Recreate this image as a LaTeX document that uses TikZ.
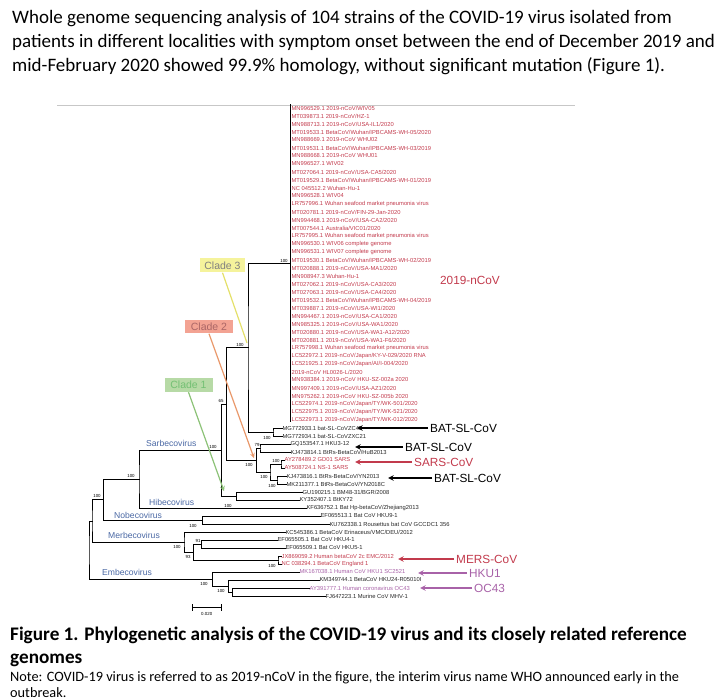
\documentclass[tikz,border=0pt]{standalone}
\usepackage{fontspec}
\setmainfont{Carlito}
\newfontfamily\treefont{Liberation Sans}
\definecolor{ncovred}{HTML}{C23A4C}
\definecolor{hkupurple}{HTML}{A862A8}
\definecolor{genusblue}{HTML}{4A68A4}
\definecolor{yellowfill}{HTML}{F5F39C}
\definecolor{yellowline}{HTML}{E4E06A}
\definecolor{salmonfill}{HTML}{F3A393}
\definecolor{orangeline}{HTML}{E9986A}
\definecolor{greenfill}{HTML}{B7DAA6}
\definecolor{greenline}{HTML}{8CC277}
\begin{document}
\begin{tikzpicture}[x=1pt, y=-1pt,
  branch/.style={line width=1pt, line cap=rect},
  leaf/.style={anchor=west, inner sep=0.4pt, text=black!85, font=\treefont\fontsize{5.8}{6}\selectfont},
  redleaf/.style={leaf, text=ncovred},
  hkuleaf/.style={leaf, text=hkupurple},
  boot/.style={inner sep=0pt, font=\treefont\fontsize{4.4}{5}\selectfont},
  genus/.style={anchor=west, inner sep=0pt, text=genusblue, font=\treefont\fontsize{8.6}{10}\selectfont},
  cladebox/.style={inner sep=0pt, minimum height=14pt, font=\treefont\fontsize{10.5}{12}\selectfont},
  tag/.style={anchor=west, inner sep=2pt, font=\treefont\fontsize{11.8}{13}\selectfont},
  pointer/.style={->, >=stealth, line width=1.5pt},
  bodytext/.style={anchor=base west, inner sep=0pt, font=\fontsize{19}{22}\selectfont}]
\useasboundingbox (0,0) rectangle (720,700);

% text above the figure
\node[bodytext] (intro1) at (12,24) {Whole genome sequencing analysis of 104 strains of the COVID-19 virus isolated from};
\node[bodytext] (intro2) at (12,48) {patients in different localities with symptom onset between the end of December 2019 and};
\node[bodytext] (intro3) at (12,72) {mid-February 2020 showed 99.9\% homology, without significant mutation (Figure 1).};

\coordinate (frameL) at (57,105);
\coordinate (frameR) at (575,105);
\draw[black!22, line width=0.6pt] (frameL) -- (frameR);

% 2019-nCoV leaves
\node[redleaf] (l1)  at (291,108) {MN996529.1 2019-nCoV/WIV05};
\node[redleaf] (l2)  at (291,116) {MT039873.1 2019-nCoV/HZ-1};
\node[redleaf] (l3)  at (291,124) {MN988713.1 2019-nCoV/USA-IL1/2020};
\node[redleaf] (l4)  at (291,132) {MT019533.1 BetaCoV/Wuhan/IPBCAMS-WH-05/2020};
\node[redleaf] (l5)  at (291,140) {MN988669.1 2019-nCoV WHU02};
\node[redleaf] (l6)  at (291,148) {MT019531.1 BetaCoV/Wuhan/IPBCAMS-WH-03/2019};
\node[redleaf] (l7)  at (291,156) {MN988668.1 2019-nCoV WHU01};
\node[redleaf] (l8)  at (291,164) {MN996527.1 WIV02};
\node[redleaf] (l9)  at (291,172) {MT027064.1 2019-nCoV/USA-CA5/2020};
\node[redleaf] (l10) at (291,180) {MT019529.1 BetaCoV/Wuhan/IPBCAMS-WH-01/2019};
\node[redleaf] (l11) at (291,188) {NC 045512.2 Wuhan-Hu-1};
\node[redleaf] (l12) at (291,196) {MN996528.1 WIV04};
\node[redleaf] (l13) at (291,204) {LR757996.1 Wuhan seafood market pneumonia virus};
\node[redleaf] (l14) at (291,212) {MT020781.1 2019-nCoV/FIN-29-Jan-2020};
\node[redleaf] (l15) at (291,220) {MN994468.1 2019-nCoV/USA-CA2/2020};
\node[redleaf] (l16) at (291,228) {MT007544.1 Australia/VIC01/2020};
\node[redleaf] (l17) at (291,236) {LR757995.1 Wuhan seafood market pneumonia virus};
\node[redleaf] (l18) at (291,244) {MN996530.1 WIV06 complete genome};
\node[redleaf] (l19) at (291,252) {MN996531.1 WIV07 complete genome};
\node[redleaf] (l20) at (291,260) {MT019530.1 BetaCoV/Wuhan/IPBCAMS-WH-02/2019};
\node[redleaf] (l21) at (291,268) {MT020888.1 2019-nCoV/USA-MA1/2020};
\node[redleaf] (l22) at (291,276) {MN908947.3 Wuhan-Hu-1};
\node[redleaf] (l23) at (291,284) {MT027062.1 2019-nCoV/USA-CA3/2020};
\node[redleaf] (l24) at (291,292) {MT027063.1 2019-nCoV/USA-CA4/2020};
\node[redleaf] (l25) at (291,300) {MT019532.1 BetaCoV/Wuhan/IPBCAMS-WH-04/2019};
\node[redleaf] (l26) at (291,308) {MT039887.1 2019-nCoV/USA-WI1/2020};
\node[redleaf] (l27) at (291,316) {MN994467.1 2019-nCoV/USA-CA1/2020};
\node[redleaf] (l28) at (291,324) {MN985325.1 2019-nCoV/USA-WA1/2020};
\node[redleaf] (l29) at (291,332) {MT020880.1 2019-nCoV/USA-WA1-A12/2020};
\node[redleaf] (l30) at (291,340) {MT020881.1 2019-nCoV/USA-WA1-F6/2020};
\node[redleaf] (l31) at (291,348) {LR757998.1 Wuhan seafood market pneumonia virus};
\node[redleaf] (l32) at (291,356) {LC522972.1 2019-nCoV/Japan/KY-V-029/2020 RNA};
\node[redleaf] (l33) at (291,364) {LC521925.1 2019-nCoV/Japan/AI/I-004/2020};
\node[redleaf] (l34) at (291,372) {2019-nCoV HL0026-L/2020};
\node[redleaf] (l35) at (291,380) {MN938384.1 2019-nCoV HKU-SZ-002a 2020};
\node[redleaf] (l36) at (291,388) {MN997409.1 2019-nCoV/USA-AZ1/2020};
\node[redleaf] (l37) at (291,396) {MN975262.1 2019-nCoV HKU-SZ-005b 2020};
\node[redleaf] (l38) at (291,404) {LC522974.1 2019-nCoV/Japan/TY/WK-501/2020};
\node[redleaf] (l39) at (291,412) {LC522975.1 2019-nCoV/Japan/TY/WK-521/2020};
\node[redleaf] (l40) at (291,420) {LC522973.1 2019-nCoV/Japan/TY/WK-012/2020};

% the other reference genomes
\node[leaf]    (l41) at (282,428) {MG772933.1 bat-SL-CoVZC45};
\node[leaf]    (l42) at (282,436) {MG772934.1 bat-SL-CoVZXC21};
\node[leaf]    (l43) at (290,444) {GQ153547.1 HKU3-12};
\node[leaf]    (l44) at (290,452) {KJ473814.1 BtRs-BetaCoV/HuB2013};
\node[redleaf] (l45) at (284,460) {AY278489.2 GD01 SARS};
\node[redleaf] (l46) at (284,468) {AY508724.1 NS-1 SARS};
\node[leaf]    (l47) at (286,476) {KJ473816.1 BtRs-BetaCoV/YN2013};
\node[leaf]    (l48) at (286,484) {MK211377.1 BtRs-BetaCoV/YN2018C};
\node[leaf]    (l49) at (302,492) {GU190215.1 BM48-31/BGR/2008};
\node[leaf]    (l50) at (299,500) {KY352407.1 BtKY72};
\node[leaf]    (l51) at (306,508) {KF636752.1 Bat Hp-betaCoV/Zhejiang2013};
\node[leaf]    (l52) at (320,516) {EF065513.1 Bat CoV HKU9-1};
\node[leaf]    (l53) at (329,524) {KU762338.1 Rousettus bat CoV GCCDC1 356};
\node[leaf]    (l54) at (285,532) {KC545386.1 BetaCoV Erinaceus/VMC/DEU/2012};
\node[leaf]    (l55) at (277,540) {EF065505.1 Bat CoV HKU4-1};
\node[leaf]    (l56) at (285,548) {EF065509.1 Bat CoV HKU5-1};
\node[redleaf] (l57) at (281,556) {JX869059.2 Human betaCoV 2c EMC/2012};
\node[redleaf] (l58) at (281,564) {NC 038294.1 BetaCoV England 1};
\node[hkuleaf] (l59) at (299,572) {MK167038.1 Human CoV HKU1 SC2521};
\node[leaf]    (l60) at (319,580) {KM349744.1 BetaCoV HKU24-R05010I};
\node[hkuleaf] (l61) at (309,588) {AY391777.1 Human coronavirus OC43};
\node[leaf]    (l62) at (325,596) {FJ647223.1 Murine CoV MHV-1};

% inner nodes of the tree
\coordinate (ncovtop) at (290,105);
\coordinate (ncovbot) at (290,421);
\coordinate (ncov) at (290,264);
\coordinate (mg)   at (273,432);
\coordinate (cl3)  at (248,348);
\coordinate (gq)   at (260,448);
\coordinate (sars) at (281,464);
\coordinate (yn)   at (277,480);
\coordinate (sy)   at (270,472);
\coordinate (n1)   at (256.7,460);
\coordinate (na)   at (226.7,404);
\coordinate (gk)   at (236.7,496);
\coordinate (nb)   at (221.7,450);
\coordinate (nc)   at (139,479);
\coordinate (nob)  at (202.7,520);
\coordinate (nd)   at (103.3,499.5);
\coordinate (m3)   at (201.7,544);
\coordinate (m4)   at (278,560);
\coordinate (m2)   at (193.3,552);
\coordinate (m1)   at (184,542);
\coordinate (ne)   at (92,521);
\coordinate (em3)  at (232.7,592);
\coordinate (em2)  at (228.3,586);
\coordinate (em1)  at (212.7,579);
\coordinate (root) at (89,550);

\draw[branch] (ncovtop) -- (ncovbot);
\draw[branch] (l41.west) -| (mg) |- (l42.west);
\draw[branch] (ncov) -| (cl3) |- (mg);
\draw[branch] (l43.west) -| (gq) |- (l44.west);
\draw[branch] (l45.west) -| (sars) |- (l46.west);
\draw[branch] (l47.west) -| (yn) |- (l48.west);
\draw[branch] (sars) -| (sy) |- (yn);
\draw[branch] (gq) -| (n1) |- (sy);
\draw[branch] (cl3) -| (na) |- (n1);
\draw[branch] (l49.west) -| (gk) |- (l50.west);
\draw[branch] (na) -| (nb) |- (gk);
\draw[branch] (nb) -| (nc) |- (l51.west);
\draw[branch] (l52.west) -| (nob) |- (l53.west);
\draw[branch] (nc) -| (nd) |- (nob);
\draw[branch] (l55.west) -| (m3) |- (l56.west);
\draw[branch] (l57.west) -| (m4) |- (l58.west);
\draw[branch] (m3) -| (m2) |- (m4);
\draw[branch] (l54.west) -| (m1) |- (m2);
\draw[branch] (nd) -| (ne) |- (m1);
\draw[branch] (l61.west) -| (em3) |- (l62.west);
\draw[branch] (l60.west) -| (em2) |- (em3);
\draw[branch] (l59.west) -| (em1) |- (em2);
\draw[branch] (ne) -| (root) |- (em1);

% bootstrap values
\node[boot] (b1)  at (284,261) {100};
\node[boot] (b2)  at (240,345) {100};
\node[boot] (b3)  at (267,438) {100};
\node[boot] (b4)  at (257,445) {79};
\node[boot] (b5)  at (249,465) {100};
\node[boot] (b6)  at (276,461) {100};
\node[boot] (b7)  at (264,477) {100};
\node[boot] (b8)  at (272,486) {100};
\node[boot] (b9)  at (221,401) {65};
\node[boot] (b10) at (213,447) {100};
\node[boot] (b11) at (228,506) {100};
\node[boot] (b12) at (131,476) {100};
\node[boot] (b13) at (193,526) {100};
\node[boot] (b14) at (97,496) {100};
\node[boot] (b15) at (198,541) {91};
\node[boot] (b16) at (188,557) {93};
\node[boot] (b17) at (177,547) {100};
\node[boot] (b18) at (272,566) {100};
\node[boot] (b19) at (204,584) {100};
\node[boot] (b20) at (221,591) {100};

% genus names
\node[genus] (sarbeco) at (146,443) {Sarbecovirus};
\node[genus] (hibeco)  at (149,502) {Hibecovirus};
\node[genus] (nobeco)  at (114,515) {Nobecovirus};
\node[genus] (merbeco) at (108,535) {Merbecovirus};
\node[genus] (embeco)  at (102,572) {Embecovirus};

\node[text=ncovred, font=\treefont\fontsize{11.8}{13}\selectfont] (ncovname) at (470,280) {2019-nCoV};

% clade call-outs
\node[cladebox, fill=yellowfill, text=black!50, minimum width=45pt] (clade3) at (222.5,265.5) {Clade 3};
\node[cladebox, fill=salmonfill, text=black!55!red!60, minimum width=48pt, minimum height=13pt] (clade2) at (209,327) {Clade 2};
\node[cladebox, fill=greenfill, text=black!45!green!55, minimum width=48pt] (clade1) at (188.5,385) {Clade 1};
\coordinate (clade3tip) at (247,343);
\coordinate (clade2tip) at (254,458);
\coordinate (clade1tip) at (224,491);
\draw[yellowline, line width=1.2pt] (clade3.south) -- (clade3tip);
\draw[orangeline, line width=1.2pt, ->, >=stealth] (clade2.south) -- (clade2tip);
\draw[greenline, line width=1.2pt, ->, >=stealth] (clade1.south) -- (clade1tip);

% pointers to known viruses
\node[tag] (bat1) at (428,428) {BAT-SL-CoV};
\node[tag] (bat2) at (403,447) {BAT-SL-CoV};
\node[tag, text=ncovred] (sarscov) at (412,462) {SARS-CoV};
\node[tag] (bat3) at (432,478) {BAT-SL-CoV};
\node[tag, text=ncovred] (merscov) at (454,559) {MERS-CoV};
\node[tag, text=hkupurple] (hku1) at (467,573) {HKU1};
\node[tag, text=hkupurple] (oc43) at (472,588) {OC43};
\coordinate (bat1tip) at (357,428);
\coordinate (bat2tip) at (355,447);
\coordinate (sarstip) at (355,462);
\coordinate (bat3tip) at (388,478);
\coordinate (merstip) at (398,559);
\coordinate (hku1tip) at (418,573);
\coordinate (oc43tip) at (420,588);
\draw[pointer] (bat1.west) -- (bat1tip);
\draw[pointer] (bat2.west) -- (bat2tip);
\draw[pointer, ncovred] (sarscov.west) -- (sarstip);
\draw[pointer] (bat3.west) -- (bat3tip);
\draw[pointer, ncovred] (merscov.west) -- (merstip);
\draw[pointer, hkupurple] (hku1.west) -- (hku1tip);
\draw[pointer, hkupurple] (oc43.west) -- (oc43tip);

% scale bar
\coordinate (bar1) at (191.7,607.7);
\coordinate (bar2) at (221.7,607.7);
\draw[line width=0.8pt, |-|] (bar1) -- (bar2);
\node[boot] (barval) at (206.7,614) {0.020};

% caption
\node[bodytext, font=\bfseries\fontsize{19.2}{20}\selectfont] (cap1) at (10,640) {Figure 1. Phylogenetic analysis of the COVID-19 virus and its closely related reference};
\node[bodytext, font=\bfseries\fontsize{19.2}{20}\selectfont] (cap2) at (10,663) {genomes};
\node[bodytext, font=\fontsize{14.3}{15}\selectfont] (note1) at (10,681) {Note: COVID-19 virus is referred to as 2019-nCoV in the figure, the interim virus name WHO announced early in the};
\node[bodytext, font=\fontsize{14.3}{15}\selectfont] (note2) at (10,697) {outbreak.};
\end{tikzpicture}
\end{document}
